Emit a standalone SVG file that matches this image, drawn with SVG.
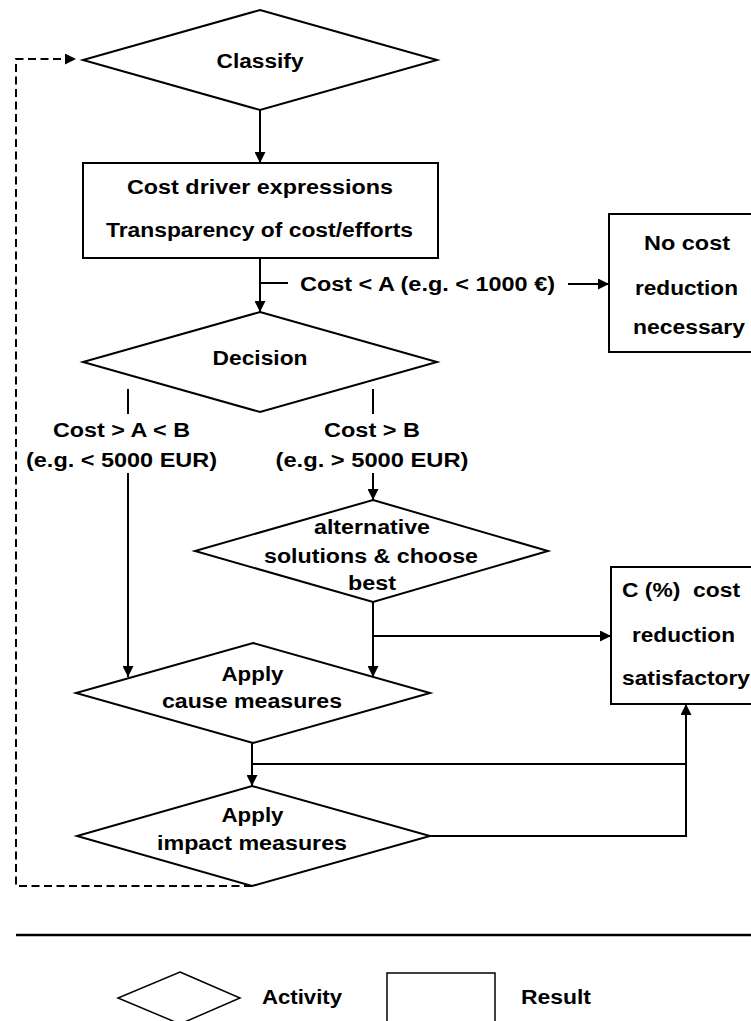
<svg xmlns="http://www.w3.org/2000/svg" width="751" height="1021" viewBox="0 0 751 1021">
<style>
.s{fill:#fff;stroke:#000;stroke-width:2}
.c{fill:none;stroke:#000;stroke-width:2}
.d{fill:none;stroke:#000;stroke-width:2;stroke-dasharray:8 4.5}
text{font-family:"Liberation Sans",Arial,sans-serif;font-weight:bold;font-size:20px;fill:#000}
.m{text-anchor:middle}
</style>
<defs>
<marker id="ah" markerUnits="userSpaceOnUse" markerWidth="11" markerHeight="11" refX="11" refY="5.5" orient="auto">
<path d="M0,0 L11,5.5 L0,11 z" fill="#000"/>
</marker>
</defs>
<rect width="751" height="1021" fill="#fff"/>
<g id="connectors">
<path class="c" d="M260,110 V163" marker-end="url(#ah)"/>
<path class="c" d="M260,258 V312" marker-end="url(#ah)"/>
<path class="c" d="M260,283 H288"/>
<path class="c" d="M568,284 H609" marker-end="url(#ah)"/>
<path class="c" d="M128,389 V414"/>
<path class="c" d="M373,389 V414"/>
<path class="c" d="M128,473 V677" marker-end="url(#ah)"/>
<path class="c" d="M373,473 V500" marker-end="url(#ah)"/>
<path class="c" d="M373,602 V677" marker-end="url(#ah)"/>
<path class="c" d="M373,636 H611" marker-end="url(#ah)"/>
<path class="c" d="M252,743 V786" marker-end="url(#ah)"/>
<path class="c" d="M252,764 H686"/>
<path class="c" d="M430,836 H686 V704" marker-end="url(#ah)"/>
<path class="d" d="M252,886 H16 V59 H76" marker-end="url(#ah)"/>
</g>
<g id="classify">
<polygon class="s" points="260,10 437,60 260,110 83,60"/>
<text class="m" x="260" y="68" textLength="87" lengthAdjust="spacingAndGlyphs">Classify</text>
</g>
<g id="cost-driver">
<rect class="s" x="83" y="163" width="355" height="95"/>
<text class="m" x="260" y="194" textLength="266" lengthAdjust="spacingAndGlyphs">Cost driver expressions</text>
<text class="m" x="259.5" y="237" textLength="307" lengthAdjust="spacingAndGlyphs">Transparency of cost/efforts</text>
</g>
<g id="label-cost-a">
<text x="300" y="291" textLength="255" lengthAdjust="spacingAndGlyphs">Cost &lt; A (e.g. &lt; 1000 €)</text>
</g>
<g id="no-cost">
<rect class="s" x="609" y="214" width="160" height="138"/>
<text class="m" x="687" y="250" textLength="86" lengthAdjust="spacingAndGlyphs">No cost</text>
<text class="m" x="686.5" y="295" textLength="103" lengthAdjust="spacingAndGlyphs">reduction</text>
<text class="m" x="689" y="334" textLength="112" lengthAdjust="spacingAndGlyphs">necessary</text>
</g>
<g id="decision">
<polygon class="s" points="260,312 437,362 260,412 83,362"/>
<text class="m" x="260" y="365" textLength="95" lengthAdjust="spacingAndGlyphs">Decision</text>
</g>
<g id="label-left">
<text class="m" x="121.5" y="437" textLength="137" lengthAdjust="spacingAndGlyphs">Cost &gt; A &lt; B</text>
<text class="m" x="121.5" y="467" textLength="191" lengthAdjust="spacingAndGlyphs">(e.g. &lt; 5000 EUR)</text>
</g>
<g id="label-right">
<text class="m" x="372" y="437" textLength="96" lengthAdjust="spacingAndGlyphs">Cost &gt; B</text>
<text class="m" x="372" y="467" textLength="193" lengthAdjust="spacingAndGlyphs">(e.g. &gt; 5000 EUR)</text>
</g>
<g id="alternatives">
<polygon class="s" points="373,500 548,551 373,602 195,551"/>
<text class="m" x="372" y="534" textLength="116" lengthAdjust="spacingAndGlyphs">alternative</text>
<text class="m" x="371" y="563" textLength="214" lengthAdjust="spacingAndGlyphs">solutions &amp; choose</text>
<text class="m" x="372" y="590" textLength="48" lengthAdjust="spacingAndGlyphs">best</text>
</g>
<g id="c-cost">
<rect class="s" x="611" y="567" width="160" height="137"/>
<text class="m" x="681" y="597" textLength="118" lengthAdjust="spacingAndGlyphs" xml:space="preserve">C (%)  cost</text>
<text class="m" x="683.5" y="642" textLength="103" lengthAdjust="spacingAndGlyphs">reduction</text>
<text class="m" x="686" y="685" textLength="128" lengthAdjust="spacingAndGlyphs">satisfactory</text>
</g>
<g id="apply-cause">
<polygon class="s" points="253,643 430,693 253,743 76,693"/>
<text class="m" x="252.5" y="681" textLength="62" lengthAdjust="spacingAndGlyphs">Apply</text>
<text class="m" x="252" y="708" textLength="180" lengthAdjust="spacingAndGlyphs">cause measures</text>
</g>
<g id="apply-impact">
<polygon class="s" points="252,786 430,836 252,886 77,836"/>
<text class="m" x="252.5" y="822" textLength="62" lengthAdjust="spacingAndGlyphs">Apply</text>
<text class="m" x="252" y="850" textLength="190" lengthAdjust="spacingAndGlyphs">impact measures</text>
</g>
<g id="separator">
<path d="M16,935 H751" stroke="#000" stroke-width="2.5" fill="none"/>
</g>
<g id="legend">
<polygon class="s" points="180,972 240,998 180,1024 118,998" style="stroke-width:1.5"/>
<text x="262" y="1004" textLength="80" lengthAdjust="spacingAndGlyphs">Activity</text>
<rect class="s" x="387" y="973" width="108" height="60" style="stroke-width:1.5"/>
<text x="521" y="1004" textLength="70" lengthAdjust="spacingAndGlyphs">Result</text>
</g>
</svg>
